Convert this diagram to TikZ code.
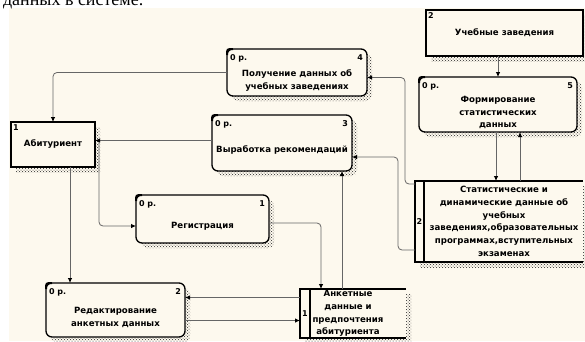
\documentclass[tikz,border=0pt]{standalone}
\usepackage{fontspec}
\setmainfont{Liberation Serif}
\newfontfamily\dfdfont{DejaVu Sans}
\usetikzlibrary{arrows.meta,patterns,shadows,calc}
\definecolor{paper}{RGB}{253,249,238}

\begin{document}
\begin{tikzpicture}[x=1pt,y=-1pt,
  every node/.style={outer sep=0pt},
  hatch/.style={general shadow={shadow xshift=5pt,shadow yshift=-5pt,pattern=crosshatch dots,pattern color=black!85}},
  proc/.style={draw,line width=1.3pt,rounded corners=6pt,fill=paper,inner sep=0pt,hatch},
  ent/.style={draw,line width=1.1pt,fill=paper,inner sep=0pt,hatch},
  store/.style={fill=paper,inner sep=0pt,hatch},
  txt/.style={font=\dfdfont\bfseries\fontsize{8.6}{12.7}\selectfont,align=center,inner sep=0pt},
  tag/.style={font=\dfdfont\bfseries\fontsize{8}{9}\selectfont,inner sep=0pt},
  flow/.style={draw=black!60,line width=0.8pt,rounded corners=4pt,-{Latex[length=5pt,width=4.5pt,color=black]}}]
  \useasboundingbox (0,0) rectangle (585,341);
  \fill[paper] (9,8) rectangle (585,341);
  \node[font=\fontsize{18}{20}\selectfont,anchor=base west,inner sep=0pt] (cap) at (3,5) {данных в системе.};

  % processes
  \node[proc,minimum width=140,minimum height=47] (p4) at (297,72.5) {};
  \node[proc,minimum width=140,minimum height=56] (p3) at (282,143) {};
  \node[proc,minimum width=133,minimum height=48] (p1) at (202.5,219) {};
  \node[proc,minimum width=139,minimum height=54] (p2) at (115.5,310) {};
  \node[proc,minimum width=158,minimum height=55] (p5) at (498,104.5) {};
  \foreach \p/\n in {p1/1,p2/2,p3/3,p4/4,p5/5} {
    \draw[line width=2pt] ([yshift=-6pt]\p.north west) .. controls (\p.north west) .. ([xshift=6pt]\p.north west);
    \node[tag,anchor=west] (\p r) at ([shift={(3pt,-9pt)}]\p.north west) {0 р.};
    \node[tag,anchor=east] (\p n) at ([shift={(-4pt,-9pt)}]\p.north east) {\n};
  }
  \node[txt] (t4) at ([yshift=-8pt]p4.center) {Получение данных об\\учебных заведениях};
  \node[txt] (t3) at ([yshift=-7pt]p3.center) {Выработка рекомендаций};
  \node[txt] (t1) at ([yshift=-7pt]p1.center) {Регистрация};
  \node[txt] (t2) at ([yshift=-7.5pt]p2.center) {Редактирование\\анкетных данных};
  \node[txt] (t5) at ([yshift=-8pt]p5.center) {Формирование\\статистических\\данных};

  % external entities
  \node[ent,minimum width=84,minimum height=45] (abit) at (53,144.5) {};
  \draw[line width=2.5pt] (abit.south west) -- (abit.north west) -- (abit.north east);
  \node[txt] (tabit) at (abit.center) {Абитуриент};
  \node[tag,anchor=north west] (abitn) at ([shift={(2pt,-3pt)}]abit.north west) {1};
  \node[ent,minimum width=157,minimum height=46] (ent2) at (504.5,33) {};
  \draw[line width=2.5pt] (ent2.south west) -- (ent2.north west) -- (ent2.north east);
  \node[txt] (tent2) at (ent2.center) {Учебные заведения};
  \node[tag,anchor=north west] (ent2n) at ([shift={(2pt,-3pt)}]ent2.north west) {2};

  % data stores
  \node[store,minimum width=106,minimum height=49] (store1) at (353,313.5) {};
  \draw[line width=1.1pt] (store1.north east) -- (store1.north west) -- (store1.south west) -- (store1.south east);
  \draw[line width=1.1pt] ([xshift=10pt]store1.north west) -- ([xshift=10pt]store1.south west);
  \node[tag] (s1n) at ([xshift=5pt]store1.west) {1};
  \node[txt] (ts1) at (348,313.5) {Анкетные\\данные и\\предпочтения\\абитуриента};
  \node[store,minimum width=168,minimum height=81] (store2) at (499,221.5) {};
  \draw[line width=1.1pt] (store2.north east) -- (store2.north west) -- (store2.south west) -- (store2.south east);
  \draw[line width=1.1pt] ([xshift=9pt]store2.north west) -- ([xshift=9pt]store2.south west);
  \node[tag] (s2n) at ([xshift=4.5pt]store2.west) {2};
  \node[txt] (ts2) at (504,221.5) {Статистические и\\динамические данные об\\учебных\\заведениях,образовательных\\программах,вступительных\\экзаменах};

  % flows
  \draw[flow] (p4.west) -| (abit.north);
  \draw[flow] ([yshift=-3pt]store2.north west) -- ++(-10,0) |- ([yshift=-5pt]p4.east);
  \draw[flow] ([yshift=12pt]store2.south west) -- ++(-17,0) |- ([yshift=-14pt]p3.east);
  \coordinate (abitin) at ([yshift=4pt]abit.east);
  \draw[flow] (p3.west |- abitin) -- (abitin);
  \coordinate (abitout) at ([shift={(4pt,-20pt)}]abit.north east);
  \draw[flow] (abitout) |- ([yshift=-7pt]p1.west);
  \coordinate (abitdown) at ([xshift=17pt]abit.south);
  \draw[flow] (abitdown) -- (abitdown |- p2.north);
  \draw[flow] ([yshift=-4pt]p1.east) -| ([xshift=-32pt]store1.north);
  \coordinate (s1up) at ([xshift=-11pt]store1.north);
  \draw[flow] (s1up) -- (s1up |- p3.south);
  \coordinate (s1left) at ([yshift=16pt]store1.west);
  \draw[flow] (s1left) -- (s1left -| p2.east);
  \coordinate (p2out) at ([yshift=-7pt]store1.west);
  \draw[flow] (p2out -| p2.east) -- (p2out);
  \draw[flow] (p5.north |- ent2.south) -- (p5.north);
  \coordinate (p5down) at ([xshift=-2pt]p5.south);
  \draw[flow] (p5down) -- (p5down |- store2.north);
  \coordinate (p5up) at ([xshift=22pt]p5.south);
  \draw[flow] (p5up |- store2.north) -- (p5up);
\end{tikzpicture}
\end{document}
